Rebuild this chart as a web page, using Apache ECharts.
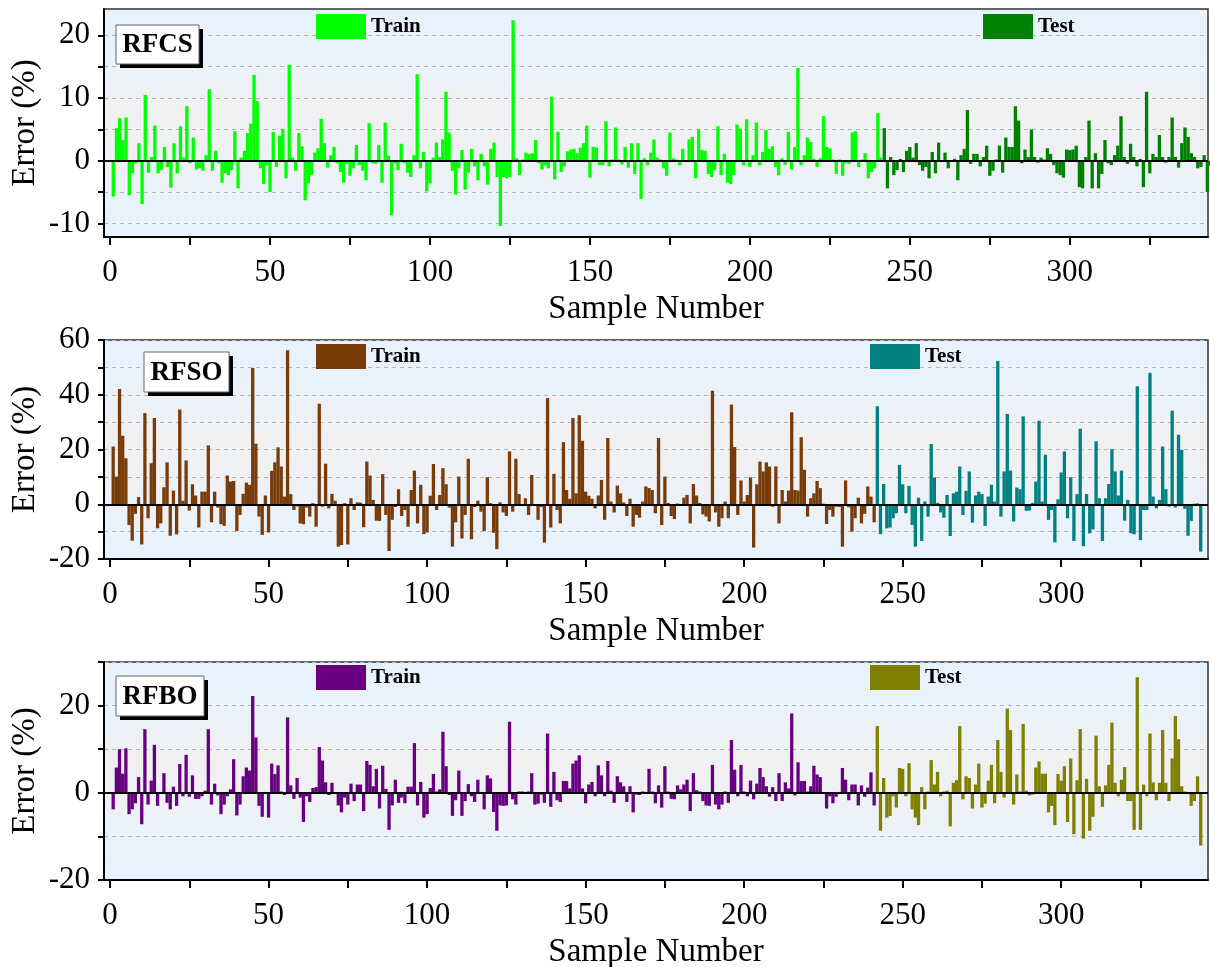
<!DOCTYPE html>
<html><head><meta charset="utf-8">
<script src="https://cdn.jsdelivr.net/npm/echarts@6/dist/echarts.min.js"></script>
<style>html,body{margin:0;padding:0;background:#fff}#c{width:1210px;height:967px}</style>
</head><body><div id="c"></div>
<script>
// ---- data (sample 1..344; samples 1..241 = Train, 242..344 = Test) ----
const trainCount = 241;
const rfcs = [
-5.7,5.2,6.8,3.3,6.9,-5.5,-2,-0.4,2.8,-6.9,
10.5,-1.9,0.6,5.6,-2,-1.5,2.2,-1,-4.3,2.8,
-2,5.5,0.5,8.7,-0.4,3.7,-1.4,-1.2,-1.6,0.9,
11.4,-1.6,1.6,-0.4,-3.5,-2,-2.3,-1.5,4.7,-4.4,
0.5,1.6,4.4,5.9,13.7,9.5,-1.2,-3.7,-0.7,-5,
4.6,-1,4,5.1,-2.8,15.3,0.5,-1.6,4.4,2.3,
-6.3,-3.6,-2.3,1.3,2.0,6.7,2.8,-1.1,0.9,2.2,
-0.4,-1.8,-3.5,-0.5,-2.4,-1.2,2.5,-0.7,-1.6,-3.1,
6.0,-0.4,-0.5,2.5,-3.5,6.1,0.8,-8.7,-0.4,-1.5,
2.7,-0.4,-1.9,-2.6,0.9,13.8,-1.2,1.4,-4.9,-3.6,
0.5,2.9,0.6,3.4,11,4.5,-1.6,-5.4,-1.2,1.7,
-4.6,-1.9,1.9,-0.9,-3.1,1.1,-0.9,-3.8,1.9,2.9,
-2.6,-10.4,-2.6,-2.8,-2.6,22.4,0.4,-2.3,0.2,1.3,
1.1,1.2,3.3,-0.4,-1.4,-0.7,-1.2,10.2,-3.0,4.6,
-1.8,-0.9,1.5,1.8,1.9,1.2,2.1,2.8,5.6,-2.7,
2.2,2.1,-0.7,-0.7,6.3,-0.9,0.2,5.3,0.2,-0.6,
2.2,-1.1,2.8,-2.1,2.8,-6.1,0.4,-0.7,1.3,3.4,
0.5,0.2,-1.2,-2.4,4.5,0.4,0.2,-0.7,1.9,0.1,
3.4,3.8,-2.8,5.0,1.7,1.6,-2.1,-2.6,-1.5,5.5,
-2.3,1.1,-3.5,-3.7,-2.3,5.8,5.1,-0.7,6.6,-1,
0.9,6.1,-0.7,1.4,4.9,1.9,2.3,-1,-2.3,0.4,
-0.7,4.6,-1.4,2.2,14.8,-0.7,0.9,3.7,3.0,0.3,
-1,0.4,7.1,2.2,2.0,0.2,-2.1,0.2,-2.4,-0.4,
-0.5,4.5,4.7,-1,0.2,1.2,-2.8,-1.8,-1.2,7.6,
0.5,5.2,-4.4,0.6,-2.3,-1.5,0.3,-1.8,1.6,2.2,
0.5,2.8,-0.7,-1.6,-1.0,-2.8,1.4,-2,2.9,0.1,
1.3,-1.2,0.1,0.3,-3.1,0.9,1.9,8.1,-0.5,1.1,
1.1,-0.9,0.6,2.4,-2.4,-1.6,0.2,2.4,-1.9,3.7,
2.2,2.2,8.7,6.4,-0.4,1.8,0.6,5.0,0.6,-0.3,
0.5,0.2,2.0,1.1,-0.7,-2,-2.3,-2.7,1.8,1.7,
1.8,2.4,-4.2,-4.4,0.6,6.4,-4.4,1.2,-4.4,-2.1,
3.3,-0.4,-0.7,0.9,2.4,7.1,0.6,-0.5,2.7,0.6,
-0.9,0.3,-4.2,11.0,-2,1.1,0.6,4.1,0.6,-0.3,
0.6,6.9,0.6,-1.1,2.8,5.3,3.8,1.2,0.6,-1.2,
-1,0.9,-5,-0.8
];
const rfso = [
21.1,10.1,42.1,25,16.8,-7.6,-13.3,-3.5,2.6,-14.7,
33.3,-5.1,15,31.5,-8.8,-7,6.2,15.3,-11.5,5,
-11,34.6,1.3,16,-2.3,7.3,3.2,-8.5,4.6,4.6,
21.5,-6.6,4.6,-1.2,-7.3,-7.9,10.5,8.3,8.5,-9.8,
-3.9,3.8,7.9,7.1,49.8,22.1,-4.5,-11.2,3.2,-10.3,
12.2,15.3,20.8,13.8,2.8,56.3,3.7,-2.1,-0.8,-7,
-7.3,-1.2,-4.5,0.4,-8.2,36.7,-0.9,14.8,-1.5,3.8,
1.3,-15.5,-14.9,0.4,-14.7,2.2,-2.1,0.7,0.6,-8.4,
15.6,10.5,1.6,-6,-6.1,11,-3.9,-17.1,-5.7,-1,
5.5,-4.3,-2.1,-8.2,5.2,12.3,-7,7.1,-10.9,-10.3,
3.1,14.7,-2.1,3.4,13.2,7.3,-1.2,-15.5,-6.6,10.1,
-12.5,-3.9,16.6,-12.8,-1,1.3,-2.7,-9.8,9.9,0.4,
-10.4,-16.4,0.7,-3,-4.3,19.3,-2.7,16.6,3.7,-0.5,
2.2,-3.9,10.7,-0.2,-5.7,-1,-14,38.8,-8.5,11.1,
-2.1,-7,22.7,5.2,2,31.5,4,32.5,23.2,4.6,
3.1,2,-1.5,3.2,8.9,-5.7,24.2,1,-3,6.8,
4,0.7,-4.3,2,-8.2,-3.9,-4.9,1,6.5,5.9,
5.2,-3.3,24.2,-7.6,10.1,0.5,-4.3,-5.4,0.3,-0.5,
2.4,3.4,-7,7.4,3.2,0.5,-3.7,-4.5,-6.3,41.5,
-3,-8.2,-5.1,1,-5.1,36.4,20.9,-3.9,8.7,1,
3.4,9.8,-15.8,7.3,15.6,12,15.3,13.8,-0.9,13.8,
-7,5.2,1,5,33.6,5.2,5,24.5,12.6,-4.5,
2.2,4,8.5,5.9,0.2,-7.2,-2.1,-4.5,-0.9,-1,
-15.5,8.7,-1.1,-10,-5.1,2.4,-7,-3.5,6.5,2.8,
-6.6,35.8,-10.9,7.4,-8.8,-8.5,-5.1,-3.3,14.4,7.3,
-3.3,6.7,-7.6,-15.5,2.4,-13.4,1,-4.5,22,9.8,
0.5,-3,-4.9,3.4,-11.6,4,4.6,13.8,-3.9,4.9,
12,-6.7,3.2,4.6,3.7,-7.9,2.8,7.1,1,52.3,
-4.5,12,33,12.3,-6.3,6.1,5.5,32.1,-2.4,-2.3,
0.5,8.3,30.5,1,18.1,-5.7,-2.1,-13.9,1.8,11.6,
19.3,-5.1,9.9,-13.4,3.7,27.6,-15.3,3.7,-10.6,-9.2,
23,2.2,-13.4,2.2,7.4,20.1,12,3.2,12.3,-6,
1.6,-10.6,-11,43.1,-13.1,-2.1,-2.1,48,2.8,-1.5,
1.6,21.1,5.5,-0.9,34.2,-1.2,25.4,19.9,-1.7,-11.5,
-6.1,0.2,0.3,-17.3
];
const rfbo = [
-3.8,5.8,10,4.4,10.2,-4.9,-3.8,-2.4,3.6,-7.2,
14.6,-2.7,2.8,11,-3,0.2,4.5,-2.3,-3.8,1.4,
-3,6.6,-0.8,8.7,-0.9,4,-1.4,-1.4,-0.8,0.5,
14.6,-2.7,2.1,-0.6,-4.9,-2.7,-0.8,0.8,7.7,-5.2,
-2.7,3.8,5.8,5.1,22.2,12.7,-3,-5.5,0.2,-5.7,
6.7,4.3,6.3,0.3,-0.5,17.3,1.7,-1.4,3.4,-1.1,
-6.7,-0.8,-2.1,1.1,1.3,10.5,7.4,2.4,-0.5,2.3,
-0.2,-2.9,-4.5,-1.1,-2.7,2.1,-1.9,1.9,1.9,-4.2,
7.3,6.4,1.5,5.5,-3.6,6.2,0.9,-8.5,-2.9,3,
-2.3,-1.1,-2.4,1.4,1.4,11.4,-2.9,2.5,-5.7,-4.9,
1.1,4.3,0.3,0.8,14,6.1,-0.5,-5.3,-1.7,5.1,
-5.3,-1.9,2,-0.8,-2.1,3,0.2,-3.8,4,3.3,
-4.4,-8.7,-2.9,-3,-2.9,16.3,-1.5,-2.7,0.3,0.3,
0.2,0.3,4.5,-2.7,-2.5,-0.4,-2.3,13.6,-3.2,4.8,
-1.7,-2.1,2.7,2.7,1,6.7,7.4,8.6,1,-2.4,
1.9,2.5,-0.8,6.3,4,-0.8,7.3,0.5,-2.3,3.8,
2.4,1.5,-2.1,1.5,-4.5,-0.4,-0.5,0.3,0.2,5.5,
0.3,-2.4,1.7,-3.4,6.1,0.3,-1.4,-1.5,1.7,0.8,
1.9,3,-4.2,4.5,0.6,0.3,-1.9,-2.9,-3,6.4,
-2.7,-3.8,-2.7,0.3,-2.3,12.1,5.3,-0.8,6.4,0.3,
-0.8,2.8,-1.5,2.1,5.7,3.6,1.5,-0.9,1.3,-1.9,
4.5,-1.9,2.4,1,18.2,-0.6,7,2.7,2.7,0.3,
1.5,6.2,4.2,3.6,0.2,-3.6,-0.8,-2.4,-0.9,0.2,
5.7,3,-1.7,1.9,1.9,-2.9,1.7,-0.9,1.2,4.7,
-2.9,15.3,-8.7,3.4,-5.7,-5.3,-0.8,-3.4,5.7,5.5,
-0.8,6.8,-3.8,-5.7,-7.4,1.3,-3.8,0.3,7.5,1.9,
4.8,-0.8,0.3,0.5,-7.7,2.3,2.9,15.3,-1.5,3.8,
3.4,-3.6,1.9,6.7,-3.4,-2.5,2.8,6.4,-2.4,12.1,
4.8,-1.1,19.3,14.4,-2.7,4.2,0.3,15.8,0.5,-0.6,
-0.4,5.8,7.2,4.4,4.4,-4.5,-3,-7.4,4.3,2.8,
6.1,-6.7,7.9,-9.5,2.9,14.6,-10.5,3.2,-8.7,-5.5,
13.1,1.5,-3.2,1.7,6.4,16.1,2.3,-0.8,3,5.9,
-1.9,-1.9,-8.5,26.5,-8.5,1.9,-0.8,13.6,2.4,-1.7,
2.3,14.4,2.3,-1.9,7.9,17.6,12.3,1.5,0.3,0.2,
-3,-1.9,3.8,-12.1
];
const xTickValues = [0,25,50,75,100,125,150,175,200,225,250,275,300,325];
const xLabelValues = [0,50,100,150,200,250,300];
const yTicks1 = [-10,-5,0,5,10,15,20];
const yLabels1 = [-10,0,10,20];
const yLabels2 = [-20,0,20,40,60];
const yLabels3 = [-20,0,20];
const panelNames = ['RFCS','RFSO','RFBO'];
const trainColors = ['#00ff00','#783c0a','#660080'];
const testColors = ['#008000','#008080','#808000'];

// ---- chart ----
const FONT = 'Liberation Serif';
const chart = echarts.init(document.getElementById('c'));
const panelData = [rfcs, rfso, rfbo];
const gridDefs = [
  {top: 9, height: 228, xmax: 343.2, ymin: -12.16, ymax: 24.2, yTicks: yTicks1, yLabels: yLabels1},
  {top: 340, height: 219, xmax: 346.3, ymin: -20, ymax: 60, interval: 10, yLabels: yLabels2},
  {top: 662, height: 218, xmax: 346.3, ymin: -20, ymax: 30, interval: 10, yLabels: yLabels3}
];
const legendPos = [
  {train: [316, 14], test: [983, 14]},
  {train: [316, 344], test: [870, 344]},
  {train: [316, 665], test: [870, 665]}
];
const boxes = [
  {x: 116, y: 25, w: 83, h: 39},
  {x: 144, y: 352, w: 85, h: 40},
  {x: 116, y: 676, w: 88, h: 40}
];

function bg() {
  return new echarts.graphic.LinearGradient(0, 0, 0, 1, [
    {offset: 0, color: '#e6f2fd'},
    {offset: 0.22, color: '#eaf2fa'},
    {offset: 0.45, color: '#f0f0f1'},
    {offset: 0.65, color: '#eef1f5'},
    {offset: 1, color: '#e6f2fd'}
  ]);
}

const grid = [], xAxis = [], yAxis = [], series = [], legend = [], graphic = [];
gridDefs.forEach((g, i) => {
  grid.push({left: 104, top: g.top, width: 1104, height: g.height, show: true,
    backgroundColor: bg(), borderColor: '#333', borderWidth: 1.5,
    containLabel: false, outerBoundsMode: 'none'});
  xAxis.push({type: 'value', gridIndex: i, min: -1.9, max: g.xmax,
    axisLine: {show: true, onZero: false, lineStyle: {color: '#000', width: 2}},
    axisTick: {show: true, inside: false, length: 8, customValues: xTickValues, lineStyle: {color: '#000', width: 2}},
    axisLabel: {customValues: xLabelValues, fontFamily: FONT, fontSize: 31, color: '#000', margin: 20},
    splitLine: {show: false},
    name: 'Sample Number', nameLocation: 'middle', nameGap: 56, nameMoveOverlap: false,
    nameTextStyle: {fontFamily: FONT, fontSize: 33, color: '#000'}});
  const ya = {type: 'value', gridIndex: i, min: g.ymin, max: g.ymax,
    axisLine: {show: true, onZero: false, lineStyle: {color: '#000', width: 2}},
    axisTick: {show: true, inside: false, length: 6, lineStyle: {color: '#000', width: 2}},
    axisLabel: {customValues: g.yLabels, fontFamily: FONT, fontSize: 31, color: '#000', margin: 14},
    splitLine: {show: true, lineStyle: {color: '#b4b4b4', type: [4, 4], width: 1}},
    name: 'Error (%)', nameLocation: 'middle', nameGap: 62, nameMoveOverlap: false,
    nameTextStyle: {fontFamily: FONT, fontSize: 33, color: '#000'}};
  if (g.interval) ya.interval = g.interval;
  if (g.yTicks) ya.axisTick.customValues = g.yTicks;
  yAxis.push(ya);

  const vals = panelData[i];
  const train = vals.slice(0, trainCount).map((v, k) => [k + 1, v]);
  const test = vals.slice(trainCount).map((v, k) => [k + 1 + trainCount, v]);
  series.push({name: 'Train' + i, type: 'bar', xAxisIndex: i, yAxisIndex: i, data: train,
    barWidth: 3.3, barGap: '-100%', itemStyle: {color: trainColors[i]}, silent: true, animation: false,
    markLine: {silent: true, symbol: 'none', label: {show: false}, animation: false,
      lineStyle: {color: '#000', width: 2.2, type: 'solid'}, data: [{yAxis: 0}]}});
  series.push({name: 'Test' + i, type: 'bar', xAxisIndex: i, yAxisIndex: i, data: test,
    barWidth: 3.3, barGap: '-100%', itemStyle: {color: testColors[i]}, silent: true, animation: false,
    z: 1});

  const lp = legendPos[i];
  [['Train', 'Train' + i, lp.train], ['Test', 'Test' + i, lp.test]].forEach(([label, nm, pos]) => {
    legend.push({data: [nm], left: pos[0], top: pos[1], padding: 0, itemWidth: 50, itemHeight: 25,
      icon: 'rect', selectedMode: false, formatter: label,
      textStyle: {fontFamily: FONT, fontSize: 21, fontWeight: 'bold', color: '#000'}});
  });

  const b = boxes[i];
  graphic.push({type: 'rect', shape: {x: b.x + 4, y: b.y + 4, width: b.w, height: b.h}, style: {fill: '#000'}, z: 100});
  graphic.push({type: 'rect', shape: {x: b.x, y: b.y, width: b.w, height: b.h}, style: {fill: '#fff', stroke: '#666', lineWidth: 1}, z: 101});
  graphic.push({type: 'text', x: b.x + b.w / 2, y: b.y + b.h / 2 + 1, z: 102,
    style: {text: panelNames[i], fontFamily: FONT, fontSize: 27, fontWeight: 'bold', fill: '#000', align: 'center', verticalAlign: 'middle'}});
});

chart.setOption({animation: false, grid, xAxis, yAxis, series, legend, graphic});
</script></body></html>
